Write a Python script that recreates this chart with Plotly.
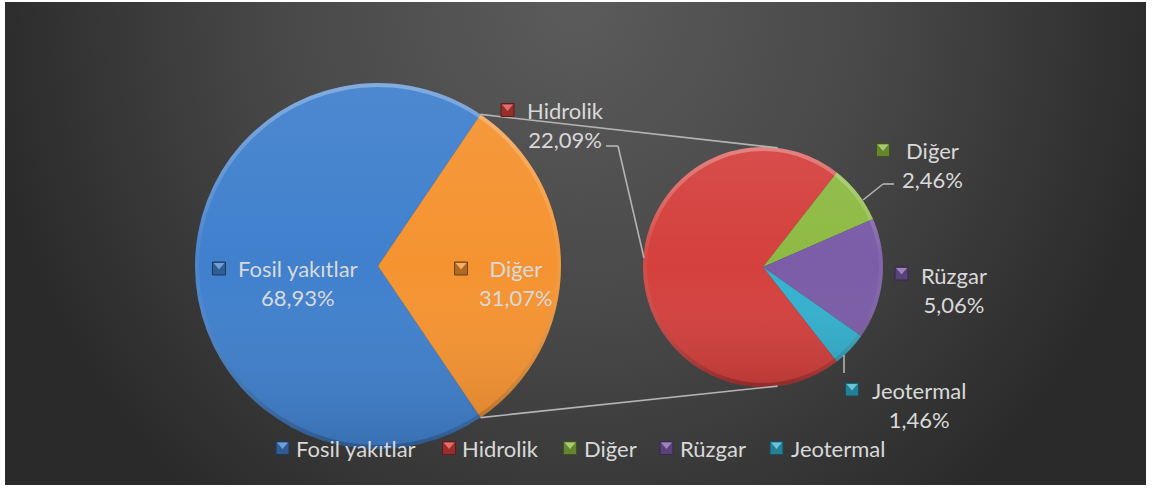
import base64
import math
import plotly.graph_objects as go

# ---------------- data ----------------
outer_labels = ["Fosil yakıtlar", "Diğer"]
outer_values = [68.93, 31.07]
outer_colors = ["#4080cd", "#f59331"]

inner_labels = ["Hidrolik", "Diğer", "Rüzgar", "Jeotermal"]
inner_values = [22.09, 2.46, 5.06, 1.46]
inner_colors = ["#d4403d", "#8dba43", "#7b5ca7", "#34b1cf"]

legend_labels = ["Fosil yakıtlar", "Hidrolik", "Diğer", "Rüzgar", "Jeotermal"]
legend_colors = [outer_colors[0]] + inner_colors

# ---------------- layout geometry (pixels) ----------------
W, H = 1152, 489
L_CX, L_CY, L_R = 378, 266, 183
R_CX, R_CY, R_R = 763, 267, 120
FONT = "Lato, 'Open Sans', sans-serif"
TXT = "#d9d9d9"
LINE = "#b4b4b4"


def px(x):
    return x / W


def py(y):
    return 1 - y / H


def domain(cx, cy, r):
    return dict(x=[px(cx - r), px(cx + r)], y=[py(cy + r), py(cy - r)])


def pct(v):
    return f"{v:.2f}".replace(".", ",") + "%"


def shade(hexcol, f):
    r, g, b = (int(hexcol[i:i + 2], 16) for i in (1, 3, 5))
    if f < 1:
        r, g, b = (int(c * f) for c in (r, g, b))
    else:
        t = f - 1
        r, g, b = (int(c + (255 - c) * t) for c in (r, g, b))
    return f"#{r:02x}{g:02x}{b:02x}"


def svg_uri(svg):
    return "data:image/svg+xml;base64," + base64.b64encode(svg.encode()).decode()


total = sum(outer_values)
dig_angle = 360 * outer_values[1] / total
sub_total = sum(inner_values)
hid_angle = 360 * inner_values[0] / sub_total

fig = go.Figure()
fig.add_trace(go.Pie(
    labels=outer_labels, values=outer_values, sort=False, direction="clockwise",
    rotation=90 + dig_angle / 2, domain=domain(L_CX, L_CY, L_R),
    marker=dict(colors=outer_colors, line=dict(width=0)),
    textinfo="none", showlegend=False, hoverinfo="label+value",
))
fig.add_trace(go.Pie(
    labels=inner_labels, values=inner_values, sort=False, direction="clockwise",
    rotation=270 - hid_angle / 2, domain=domain(R_CX, R_CY, R_R),
    marker=dict(colors=inner_colors, line=dict(width=0)),
    textinfo="none", showlegend=False, hoverinfo="label+value",
))

shapes = []
annotations = []


def seg(x0, y0, x1, y1, color=LINE, w=1.6):
    shapes.append(dict(type="line", xref="paper", yref="paper",
                       x0=px(x0), y0=py(y0), x1=px(x1), y1=py(y1),
                       line=dict(color=color, width=w)))


def square(cx, cy, color, s=13):
    h = s / 2
    shapes.append(dict(type="rect", xref="paper", yref="paper",
                       x0=px(cx - h), x1=px(cx + h), y0=py(cy + h), y1=py(cy - h),
                       fillcolor=shade(color, 0.72),
                       line=dict(color=shade(color, 0.45), width=1)))
    # lighter bevel triangle on top
    path = (f"M {px(cx - h + 1)} {py(cy - h + 1)} L {px(cx + h - 1)} {py(cy - h + 1)} "
            f"L {px(cx)} {py(cy + 1)} Z")
    shapes.append(dict(type="path", xref="paper", yref="paper", path=path,
                       fillcolor=shade(color, 1.25), line=dict(width=0)))


# connector lines between the two pies
for sgn in (-1, 1):
    a = math.radians(90 + sgn * dig_angle / 2)
    x0 = L_CX + L_R * math.sin(a)
    y0 = L_CY - L_R * math.cos(a)
    b = math.radians(90 + sgn * 83)
    x1 = R_CX + R_R * math.sin(b)
    y1 = R_CY - R_R * math.cos(b)
    seg(x0, y0, x1, y1)

# leader lines
seg(606, 146, 618, 146)
seg(618, 146, 644, 258)
seg(863, 200, 883, 184)
seg(883, 184, 894, 184)
seg(844, 355, 844, 373)

# data labels: (block centre x, block centre y, marker x, marker y)
outer_pos = [(298, 282.5, 219, 268.5), (516, 283, 461, 268.5)]
inner_pos = [(565, 125.5, 507.5, 110), (932, 165, 883, 150),
             (954, 289.5, 901.5, 273.5), (918.5, 404.5, 852, 389.5)]

for labels, values, colors, pos in ((outer_labels, outer_values, outer_colors, outer_pos),
                                    (inner_labels, inner_values, inner_colors, inner_pos)):
    for lab, val, col, (tx, ty, mx, my) in zip(labels, values, colors, pos):
        annotations.append(dict(
            xref="paper", yref="paper", x=px(tx), y=py(ty), showarrow=False,
            text=f"{lab}<br>{pct(val)}", align="center",
            xanchor="center", yanchor="middle",
            font=dict(family=FONT, size=22, color=TXT)))
        square(mx, my, col)

# legend
leg_pos = [(282.5, 294), (449, 460), (570, 582), (666.5, 678), (776.5, 788.5)]
LEG_Y = 448
for lab, col, (mx, tx) in zip(legend_labels, legend_colors, leg_pos):
    square(mx, LEG_Y, col)
    annotations.append(dict(
        xref="paper", yref="paper", x=px(tx), y=py(LEG_Y), showarrow=False,
        text=lab, xanchor="left", yanchor="middle",
        font=dict(family=FONT, size=22, color=TXT)))

# background (white border + radial dark gradient)
bg_svg = f'''<svg xmlns="http://www.w3.org/2000/svg" width="{W}" height="{H}" viewBox="0 0 {W} {H}" preserveAspectRatio="none">
<defs><radialGradient id="g" gradientUnits="userSpaceOnUse" cx="576" cy="0" r="650"
 gradientTransform="translate(576 0) scale(0.92 1) translate(-576 0)">
<stop offset="0" stop-color="#5b5b5b"/><stop offset="0.5" stop-color="#484848"/>
<stop offset="1" stop-color="#2a2a2a"/></radialGradient></defs>
<rect x="0" y="0" width="{W}" height="{H}" fill="#ffffff"/>
<rect x="5" y="2" width="1141" height="483" fill="url(#g)"/></svg>'''

images = [dict(source=svg_uri(bg_svg), xref="paper", yref="paper", x=0, y=1, sizex=1, sizey=1,
               xanchor="left", yanchor="top", sizing="stretch", layer="below")]


# soft 3D shading overlay for each pie
def pie_overlay(cx, cy, r):
    ring = 4.0 * 50 / r
    svg = f'''<svg xmlns="http://www.w3.org/2000/svg" width="100" height="100" viewBox="0 0 100 100">
<defs>
<linearGradient id="a" x1="0" y1="0" x2="0" y2="1">
<stop offset="0" stop-color="#ffffff" stop-opacity="0.07"/>
<stop offset="0.5" stop-color="#ffffff" stop-opacity="0"/>
<stop offset="1" stop-color="#000000" stop-opacity="0.13"/></linearGradient>
<linearGradient id="b" x1="0" y1="0" x2="0" y2="1">
<stop offset="0" stop-color="#ffffff" stop-opacity="0.30"/>
<stop offset="0.45" stop-color="#ffffff" stop-opacity="0.05"/>
<stop offset="1" stop-color="#000000" stop-opacity="0.22"/></linearGradient>
</defs>
<circle cx="50" cy="50" r="50" fill="url(#a)"/>
<circle cx="50" cy="50" r="{50 - ring / 2:.3f}" fill="none" stroke="url(#b)" stroke-width="{ring:.3f}"/>
</svg>'''
    return dict(source=svg_uri(svg), xref="paper", yref="paper",
                x=px(cx - r), y=py(cy - r), sizex=2 * r / W, sizey=2 * r / H,
                xanchor="left", yanchor="top", sizing="stretch", layer="above")


images.append(pie_overlay(L_CX, L_CY, L_R))
images.append(pie_overlay(R_CX, R_CY, R_R))

fig.update_layout(
    width=W, height=H, margin=dict(l=0, r=0, t=0, b=0),
    paper_bgcolor="#ffffff", plot_bgcolor="rgba(0,0,0,0)",
    images=images, shapes=shapes, annotations=annotations, showlegend=False,
)

fig.write_html("out.html", config={"displayModeBar": False},
               post_script="document.body.style.margin='0';")
